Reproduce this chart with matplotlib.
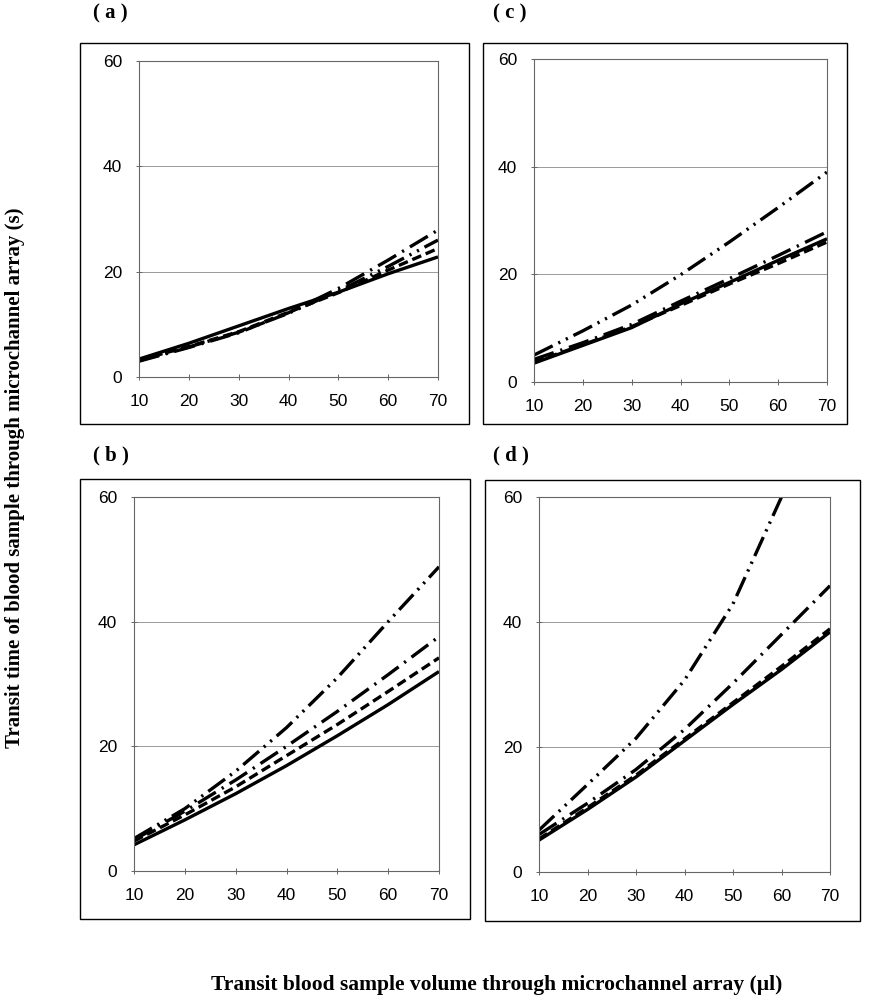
import numpy as np
import matplotlib.pyplot as plt
from matplotlib.patches import Rectangle

plt.rcParams['lines.scale_dashes'] = False

# x values (µl)
vol = [10, 20, 30, 40, 50, 60, 70]
vol_short = [10, 20, 30, 40, 50, 60]

# (a)
a_solid = [3.4, 6.4, 9.7, 13.0, 16.1, 19.6, 22.8]
a_dash = [3.2, 5.8, 8.6, 12.3, 16.0, 20.3, 24.4]
a_dashdot = [3.0, 5.6, 8.4, 12.2, 16.8, 22.2, 27.9]
a_dashdotdot = [3.1, 5.7, 8.5, 12.1, 16.3, 21.0, 26.0]

# (b)
b_solid = [4.2, 8.2, 12.4, 16.9, 21.7, 26.7, 32.0]
b_dash = [4.8, 9.0, 13.5, 18.5, 23.5, 28.8, 34.2]
b_dashdot = [5.0, 9.6, 14.6, 20.0, 25.6, 31.5, 37.6]
b_dashdotdot = [5.2, 10.0, 16.0, 23.0, 31.0, 40.0, 48.8]

# (c)
c_solid = [3.5, 6.8, 10.1, 14.5, 18.5, 22.6, 26.6]
c_dash = [3.7, 6.9, 10.3, 14.2, 18.2, 22.0, 26.0]
c_dashdot = [4.2, 7.3, 10.7, 15.0, 19.2, 23.5, 27.9]
c_dashdotdot = [5.0, 9.5, 14.3, 19.9, 26.0, 32.4, 39.0]

# (d)
d_solid = [5.1, 10.0, 15.2, 21.0, 26.8, 32.4, 38.4]
d_dash = [5.3, 10.3, 15.5, 21.3, 27.1, 32.9, 38.9]
d_dashdot = [6.0, 11.0, 16.4, 22.8, 30.2, 38.0, 45.8]
d_dashdotdot = [6.7, 14.0, 21.4, 30.7, 42.9, 60.0]

W, H = 872, 1000


def frac(l, t, r, b):
    return [l / W, 1 - b / H, (r - l) / W, (b - t) / H]


fig = plt.figure(figsize=(8.72, 10), dpi=100)

# outer frames around each panel
for (l, t, r, b) in [(80, 43, 469, 424), (483, 43, 847, 424),
                     (80, 479, 470, 919), (485, 480, 860, 921)]:
    fig.add_artist(Rectangle((l / W, 1 - b / H), (r - l) / W, (b - t) / H,
                             transform=fig.transFigure, fill=False,
                             edgecolor='black', linewidth=1.0))

styles = {
    'solid': dict(linestyle='-'),
    'dash': dict(dashes=[7, 3.5]),
    'dashdot': dict(dashes=[15, 5, 1.6, 5]),
    'dashdotdot': dict(dashes=[15, 4.5, 1.6, 4.5, 1.6, 4.5]),
}

panels = [
    ('( a )', (139, 61, 438, 377), (93, 13),
     [(vol, a_solid, 'solid'), (vol, a_dash, 'dash'),
      (vol, a_dashdotdot, 'dashdotdot'), (vol, a_dashdot, 'dashdot')]),
    ('( c )', (534, 59, 827, 382), (493, 13),
     [(vol, c_solid, 'solid'), (vol, c_dash, 'dash'),
      (vol, c_dashdot, 'dashdot'), (vol, c_dashdotdot, 'dashdotdot')]),
    ('( b )', (134, 497, 439, 871), (93, 455),
     [(vol, b_solid, 'solid'), (vol, b_dash, 'dash'),
      (vol, b_dashdot, 'dashdot'), (vol, b_dashdotdot, 'dashdotdot')]),
    ('( d )', (539, 497, 830, 872), (493, 455),
     [(vol, d_solid, 'solid'), (vol, d_dash, 'dash'),
      (vol, d_dashdot, 'dashdot'), (vol_short, d_dashdotdot, 'dashdotdot')]),
]

for label, box, lab_pos, series in panels:
    ax = fig.add_axes(frac(*box))
    for xs, ys, st in series:
        ax.plot(xs, ys, color='black', linewidth=2.4,
                solid_capstyle='butt', dash_capstyle='butt', **styles[st])
    ax.set_xlim(10, 70)
    ax.set_ylim(0, 60)
    ax.set_xticks([10, 20, 30, 40, 50, 60, 70])
    ax.set_yticks([0, 20, 40, 60])
    ax.yaxis.grid(True, color='#999999', linewidth=0.7)
    ax.set_axisbelow(True)
    for sp in ax.spines.values():
        sp.set_color('#666666')
        sp.set_linewidth(0.8)
    ax.tick_params(direction='inout', length=4, width=0.7, color='#666666',
                   labelsize=12.5, pad=10)
    for t in ax.get_xticklabels() + ax.get_yticklabels():
        t.set_fontfamily('Liberation Sans')
    fig.text(lab_pos[0] / W, 1 - lab_pos[1] / H, label, ha='left',
             va='center', fontsize=15, fontweight='bold',
             family='Liberation Serif')

fig.text(15 / W, 1 - 478 / H,
         'Transit time of blood sample through microchannel array (s)',
         rotation=90, ha='center', va='center', fontsize=15,
         fontweight='bold', family='Liberation Serif')
fig.text(497 / W, 1 - 985 / H,
         'Transit blood sample volume through microchannel array (\u00b5l)',
         ha='center', va='center', fontsize=15.5, fontweight='bold',
         family='Liberation Serif')

fig.savefig('out.png', dpi=100)
